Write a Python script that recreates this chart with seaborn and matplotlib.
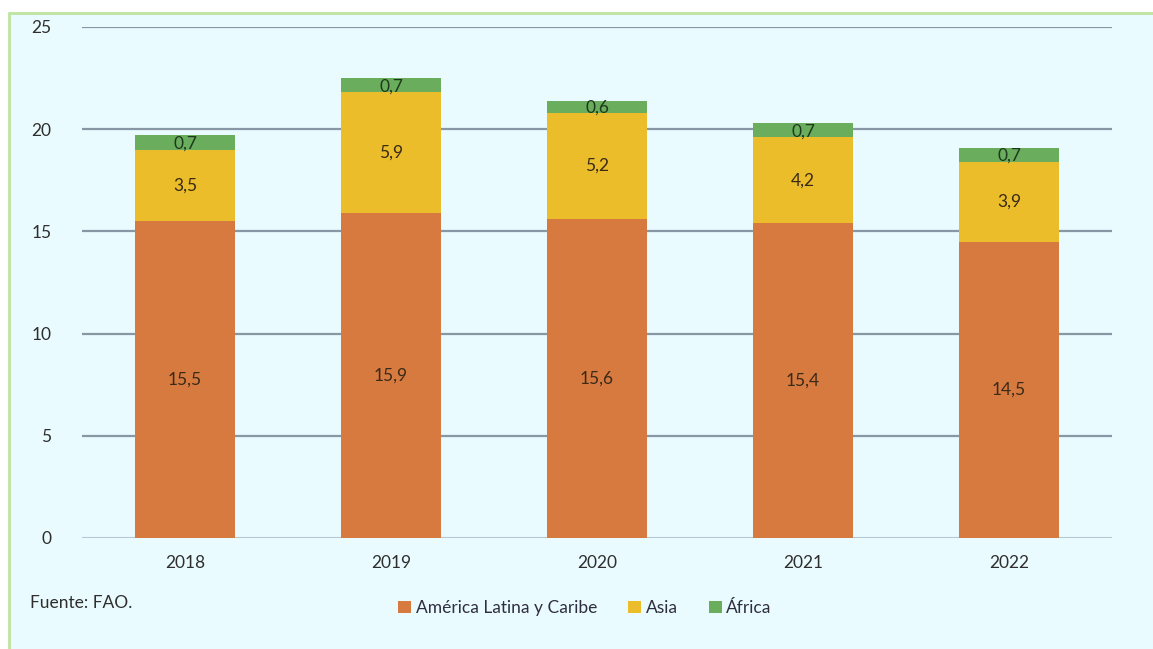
import matplotlib
matplotlib.use("Agg")
import numpy as np
import pandas as pd
import matplotlib.pyplot as plt
from matplotlib.patches import Rectangle
import seaborn as sns

years = ["2018", "2019", "2020", "2021", "2022"]
america = [15.5, 15.9, 15.6, 15.4, 14.5]
asia = [3.5, 5.9, 5.2, 4.2, 3.9]
africa = [0.7, 0.7, 0.6, 0.7, 0.7]
series_names = ["América Latina y Caribe", "Asia", "África"]
colors = ["#D77A3F", "#EBBD2B", "#6AAE5D"]
label_colors = ["#3A2A18", "#3A2A18", "#1E3A1E"]

sns.set_style("white")
plt.rcParams["font.family"] = ["Lato", "DejaVu Sans"]

bg = "#EAFBFF"
fig = plt.figure(figsize=(11.53, 6.49), dpi=100)
fig.patch.set_facecolor("white")
fig.patches.append(Rectangle((9 / 1153, -0.05), 1.1, 1 - 13 / 649 + 0.05,
                             transform=fig.transFigure, facecolor=bg,
                             edgecolor="#BFE3A0", linewidth=2, zorder=-10))
ax = fig.add_axes([82 / 1153, 1 - 538 / 649, 1030 / 1153, 511 / 649])
ax.set_facecolor("none")

df = pd.DataFrame({"year": years, series_names[0]: america,
                   series_names[1]: asia, series_names[2]: africa})
bottom = np.zeros(len(years))
for name, col, lc in zip(series_names, colors, label_colors):
    vals = df[name].to_numpy()
    sns.barplot(x=df["year"], y=vals, bottom=bottom, color=col, width=0.49,
                ax=ax, label=name, saturation=1, linewidth=0, zorder=3)
    for i, v in enumerate(vals):
        ax.text(i, bottom[i] + v / 2 - (0.05 if name == "África" else 0),
                f"{v:.1f}".replace(".", ","), ha="center", va="center",
                fontsize=12.5, color=lc, zorder=4)
    bottom = bottom + vals

if ax.get_legend() is not None:
    ax.get_legend().remove()

ax.set_ylim(0, 25)
ax.set_xlim(-0.5, 4.5)
ax.set_yticks([0, 5, 10, 15, 20, 25])
for y in [5, 10, 15, 20, 25]:
    ax.axhline(y, color="#8797A3", lw=1.6, zorder=1)
ax.axhline(0, color="#B5C7D0", lw=1.5, zorder=1)
for s in ax.spines.values():
    s.set_visible(False)
ax.set_xlabel("")
ax.set_ylabel("")
ax.tick_params(axis="y", length=0, pad=22, labelsize=12.5, labelcolor="#2E2E2E")
ax.tick_params(axis="x", length=0, pad=12, labelsize=12.5, labelcolor="#2E2E2E")
ax.set_xticks(np.arange(-0.5, 5, 1), minor=True)
ax.tick_params(axis="x", which="minor", length=6, color="#C5D5DC", width=1.2)

handles, labels = ax.get_legend_handles_labels()
fig.legend(handles, labels, loc="center", bbox_to_anchor=(585 / 1153, 1 - 608 / 649),
           ncol=3, frameon=False, fontsize=12.5, handlelength=0.75, handleheight=0.75,
           handletextpad=0.25, columnspacing=1.8, labelcolor="#2E2E3E")
fig.text(30 / 1153, 1 - 603 / 649, "Fuente: FAO.", fontsize=12.5, color="#2E2E2E",
         va="center", ha="left")

fig.savefig("out.png", dpi=100, facecolor=fig.get_facecolor())
